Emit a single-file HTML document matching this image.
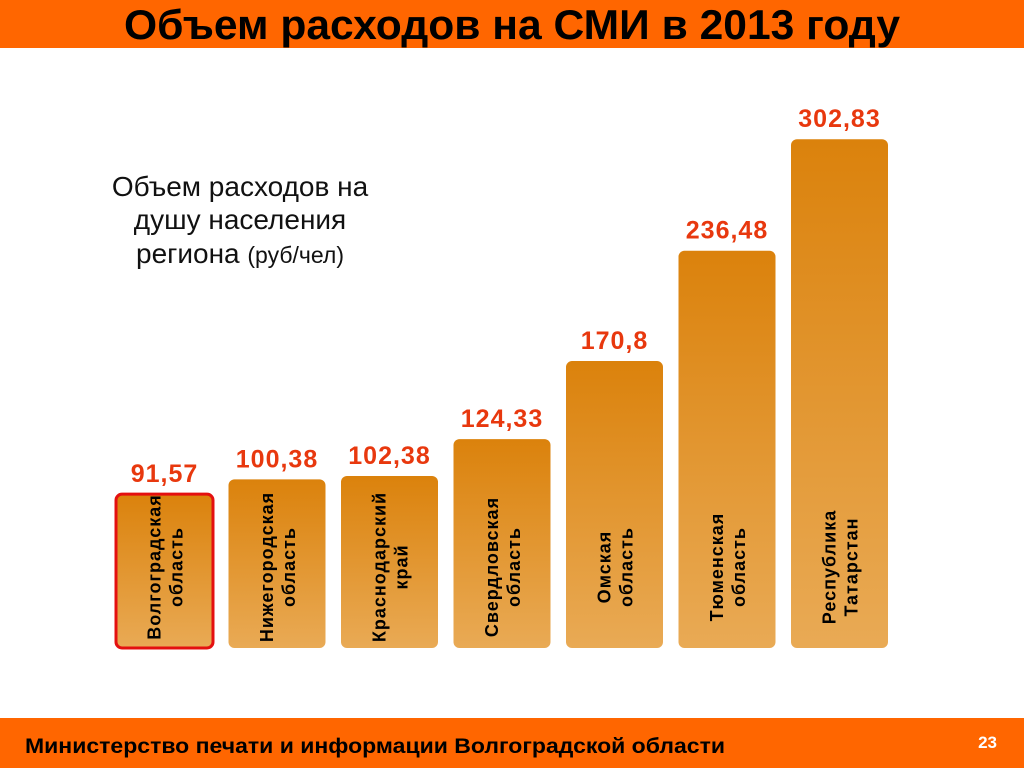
<!DOCTYPE html>
<html><head><meta charset="utf-8">
<style>
body{margin:0;width:1024px;height:768px;overflow:hidden;background:#fff;font-family:"Liberation Sans","DejaVu Sans",sans-serif}
</style></head>
<body>
<svg width="1024" height="768" viewBox="0 0 1024 768" xmlns="http://www.w3.org/2000/svg">
<defs>
<linearGradient id="g" x1="0" y1="0" x2="0" y2="1">
<stop offset="0" stop-color="#db820c"/><stop offset="1" stop-color="#e9aa55"/>
</linearGradient>
</defs>
<rect x="0" y="0" width="1024" height="48" fill="#ff6600"/>
<text x="512" y="39" text-anchor="middle" font-size="42" font-weight="bold" fill="#000" textLength="776" lengthAdjust="spacingAndGlyphs">Объем расходов на СМИ в 2013 году</text>
<rect x="0" y="718" width="1024" height="50" fill="#ff6600"/>
<text x="25" y="753" font-size="21" font-weight="bold" fill="#000" textLength="700" lengthAdjust="spacingAndGlyphs">Министерство печати и информации Волгоградской области</text>
<text x="997" y="748" text-anchor="end" font-size="17" font-weight="bold" fill="#fff">23</text>
<g font-size="28" fill="#111" text-anchor="middle">
<text x="240" y="196">Объем расходов на</text>
<text x="240" y="229">душу населения</text>
<text x="240" y="263">региона <tspan font-size="23">(руб/чел)</tspan></text>
</g>
<g id="chart"></g>
</svg>
<script>
const categories1=["Волгоградская","Нижегородская","Краснодарский","Свердловская","Омская","Тюменская","Республика"];
const categories2=["область","область","край","область","область","область","Татарстан"];
const values=[91.57,100.38,102.38,124.33,170.8,236.48,302.83];
const valueLabels=["91,57","100,38","102,38","124,33","170,8","236,48","302,83"];
const NS="http://www.w3.org/2000/svg";
const g=document.getElementById('chart');
const baseY=648, pxPerUnit=1.68, x0=116, step=112.5, bw=97;
function yScale(v){return baseY-v*pxPerUnit;}
function xScale(i){return x0+i*step;}
values.forEach((v,i)=>{
  const x=xScale(i), y=yScale(v);
  const r=document.createElementNS(NS,'rect');
  
  
  r.setAttribute('x',x);r.setAttribute('y',y);r.setAttribute('width',bw);r.setAttribute('height',baseY-y);
  r.setAttribute('rx',6);r.setAttribute('fill','url(#g)');
  if(i===0){r.setAttribute('stroke','#e41010');r.setAttribute('stroke-width','3');}
  g.appendChild(r);
  const t=document.createElementNS(NS,'text');
  
  
  t.setAttribute('x',x+bw/2);t.setAttribute('y',y-12);
  t.setAttribute('text-anchor','middle');t.setAttribute('font-size','25');t.setAttribute('font-weight','bold');
  t.setAttribute('fill','#e8380e');t.setAttribute('letter-spacing','1');
  t.textContent=valueLabels[i];
  g.appendChild(t);
  const cx=x+bw/2, cy=567;
  const lt=document.createElementNS(NS,'text');
  
  
  lt.setAttribute('transform','translate('+cx+','+cy+') rotate(-90)');
  lt.setAttribute('text-anchor','middle');lt.setAttribute('font-size','18');lt.setAttribute('font-weight','bold');lt.setAttribute('fill','#000');lt.setAttribute('letter-spacing','1');
  const s1=document.createElementNS(NS,'tspan');s1.setAttribute('x','0');s1.setAttribute('y','-4');s1.textContent=categories1[i];
  const s2=document.createElementNS(NS,'tspan');s2.setAttribute('x','0');s2.setAttribute('y','18');s2.textContent=categories2[i];
  lt.appendChild(s1);lt.appendChild(s2);
  g.appendChild(lt);
});
</script>
</body></html>
